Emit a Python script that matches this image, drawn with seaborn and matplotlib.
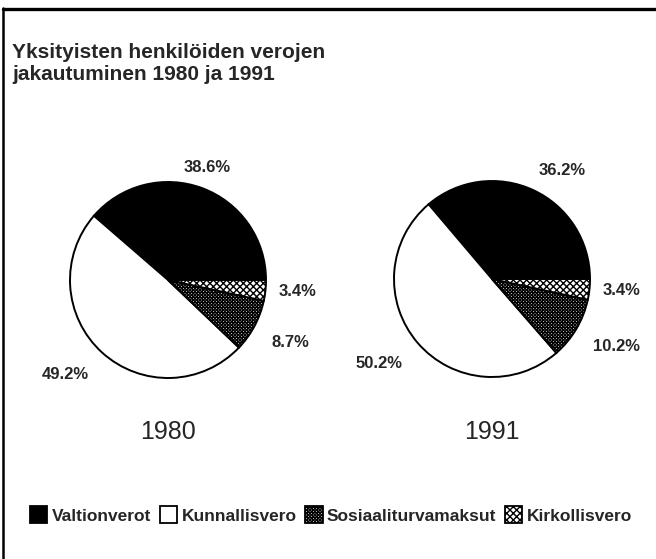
import numpy as np
import matplotlib
matplotlib.use("Agg")
import matplotlib.pyplot as plt
import seaborn as sns
from matplotlib.patches import Patch
from matplotlib.lines import Line2D

# data
categories = ["Valtionverot", "Kunnallisvero", "Sosiaaliturvamaksut", "Kirkollisvero"]
shares_1980 = [38.6, 49.2, 8.7, 3.4]
shares_1991 = [36.2, 50.2, 10.2, 3.4]
labels_1980 = ["38.6%", "49.2%", "8.7%", "3.4%"]
labels_1991 = ["36.2%", "50.2%", "10.2%", "3.4%"]
years = ["1980", "1991"]

colors = ["black", "white", "white", "white"]
hatches = [None, None, "xxxxxxxxxx", "xxxxx"]

sns.set_theme(style="white")
plt.rcParams["font.family"] = ["Liberation Sans", "DejaVu Sans"]
plt.rcParams["hatch.linewidth"] = 1.0

W, H = 656, 559
fig = plt.figure(figsize=(W / 100, H / 100), dpi=100)
fig.patch.set_facecolor("white")

# frame lines (top and left only, as in the scan)
fig.add_artist(Line2D([3 / W, 3 / W], [0, 1 - 8 / H], transform=fig.transFigure,
                      color="black", lw=1.8))
fig.add_artist(Line2D([3 / W, 1], [1 - 8.5 / H, 1 - 8.5 / H], transform=fig.transFigure,
                      color="black", lw=2.4))

fig.text(12 / W, 1 - 43 / H, "Yksityisten henkilöiden verojen\njakautuminen 1980 ja 1991",
         fontsize=15, fontweight="bold", ha="left", va="top", linespacing=1.22)

R = 98  # pie radius in px
span = 1.6
centers = [(168, 280), (492, 279)]

for (cx, cy), vals, labs, year in zip(centers, [shares_1980, shares_1991],
                                      [labels_1980, labels_1991], years):
    size = 2 * span * R
    ax = fig.add_axes([(cx - span * R) / W, (H - cy - span * R) / H, size / W, size / H])
    wedges, _ = ax.pie(vals, colors=colors, startangle=0, counterclock=True,
                       wedgeprops=dict(edgecolor="black", linewidth=1.4))
    for w, h in zip(wedges, hatches):
        if h:
            w.set_hatch(h)
    for w, lab in zip(wedges, labs):
        ang = np.deg2rad((w.theta1 + w.theta2) / 2)
        c, s = np.cos(ang), np.sin(ang)
        ha = "left" if c > 0.4 else ("right" if c < -0.4 else "center")
        va = "bottom" if s > 0.3 else ("top" if s < -0.3 else "center")
        r = 1.14 if s > -0.3 else 1.2
        ax.text(r * c, r * s, lab, ha=ha, va=va, fontsize=12, fontweight="bold")
    ax.set_xlim(-span, span)
    ax.set_ylim(-span, span)
    ax.set_aspect("equal")
    ax.axis("off")
    fig.text(cx / W, 1 - 432 / H, year, fontsize=18, ha="center", va="center")

handles = [Patch(facecolor=c, edgecolor="black", hatch=h, linewidth=1.3)
           for c, h in zip(colors, hatches)]
fig.legend(handles, categories, loc="center", bbox_to_anchor=(331 / W, 1 - 515 / H),
           ncol=4, frameon=False, prop=dict(size=12.5, weight="bold"),
           handlelength=1.0, handleheight=1.1, handletextpad=0.25, columnspacing=0.5,
           borderpad=0)

fig.savefig("out.png", dpi=100, facecolor="white")
